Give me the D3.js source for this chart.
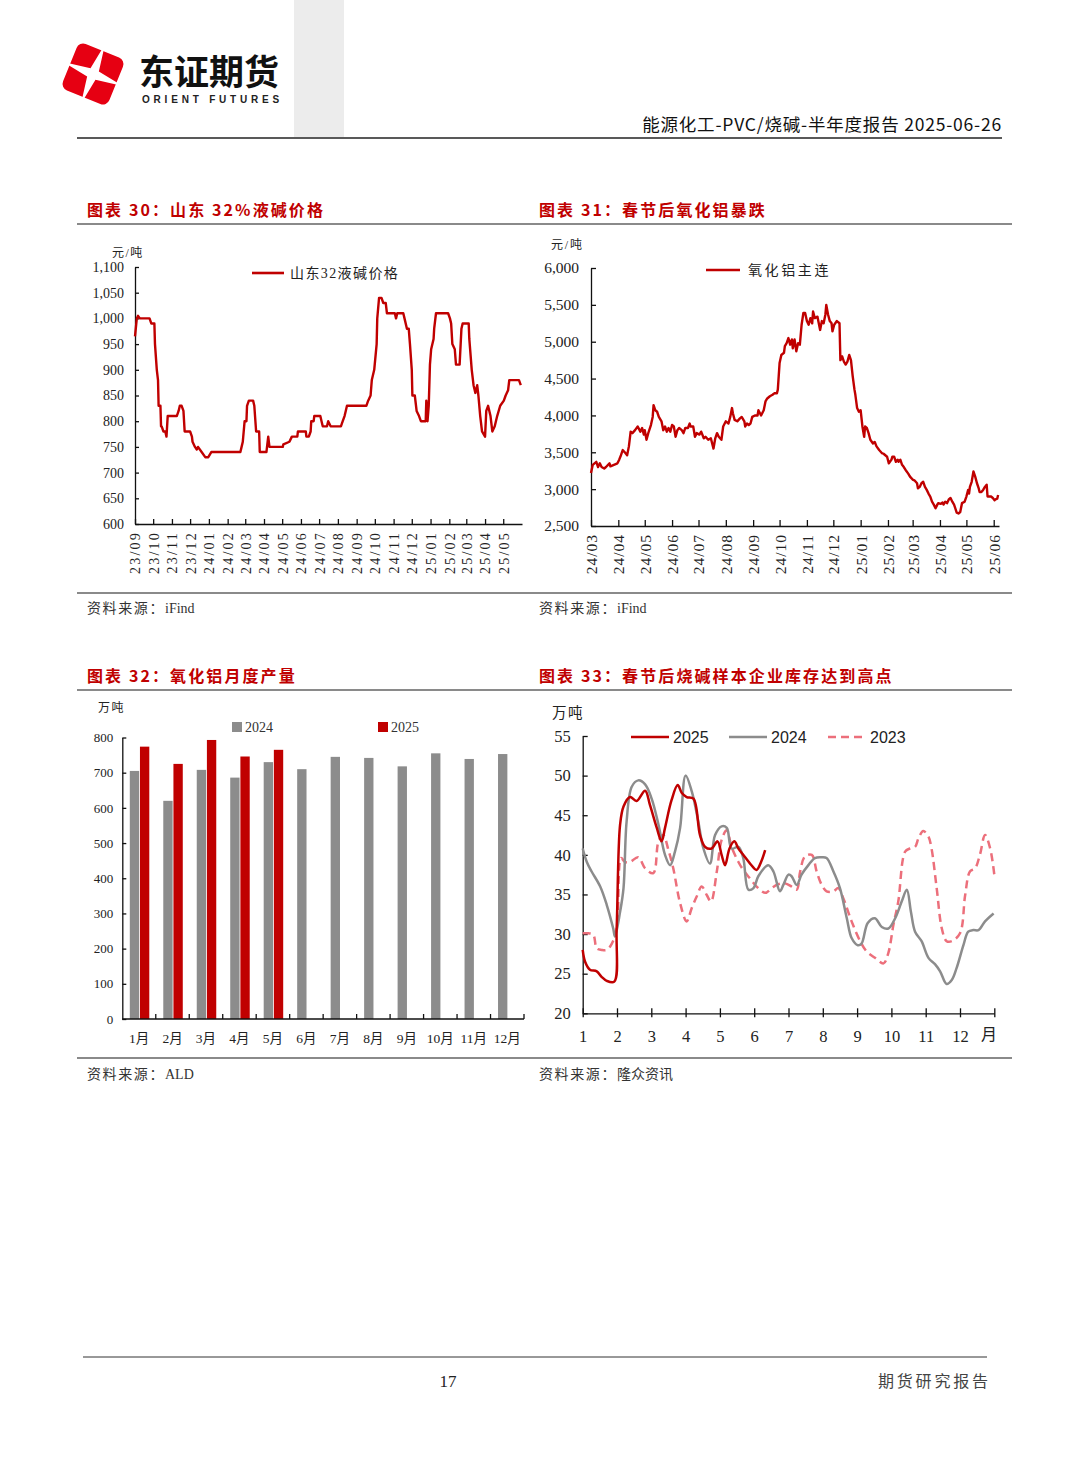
<!DOCTYPE html>
<html>
<head>
<meta charset="utf-8">
<script src="https://cdn.jsdelivr.net/npm/d3@7"></script>
<style>body{margin:0;background:#fff}</style>
</head>
<body>
<script>
// ---- 图表30 山东32%液碱价格 (元/吨) ----
const causticTicks = ["23/09","23/10","23/11","23/12","24/01","24/02","24/03","24/04","24/05","24/06","24/07",
  "24/08","24/09","24/10","24/11","24/12","25/01","25/02","25/03","25/04","25/05"];
const causticPrice = [
  ["2023-09-01",965],["2023-09-04",1000],["2023-09-06",1005],["2023-09-09",1000],["2023-09-25",1000],["2023-09-28",990],
  ["2023-10-03",990],["2023-10-04",950],["2023-10-07",900],["2023-10-09",880],["2023-10-10",830],["2023-10-13",830],
  ["2023-10-14",790],["2023-10-15",790],["2023-10-18",780],["2023-10-21",780],["2023-10-23",770],["2023-10-25",810],
  ["2023-11-09",810],["2023-11-12",820],["2023-11-14",830],["2023-11-17",830],["2023-11-20",820],["2023-11-22",780],
  ["2023-12-01",780],["2023-12-04",770],["2023-12-05",760],["2023-12-09",750],["2023-12-12",745],["2023-12-14",750],
  ["2023-12-20",740],["2023-12-26",730],["2023-12-31",730],["2024-01-05",740],
  ["2024-02-22",740],["2024-02-24",750],["2024-02-26",760],["2024-02-29",800],
  ["2024-03-03",800],["2024-03-04",830],["2024-03-07",840],["2024-03-14",840],["2024-03-16",830],["2024-03-19",780],
  ["2024-03-24",780],["2024-03-25",740],
  ["2024-04-05",740],["2024-04-06",750],["2024-04-08",770],["2024-04-10",750],
  ["2024-05-02",750],["2024-05-03",755],["2024-05-13",760],["2024-05-17",770],["2024-05-26",770],["2024-05-27",780],
  ["2024-06-09",780],["2024-06-10",770],["2024-06-14",770],["2024-06-17",780],["2024-06-18",800],["2024-06-22",800],["2024-06-23",810],
  ["2024-07-03",810],["2024-07-05",800],["2024-07-07",790],["2024-07-14",790],["2024-07-16",800],["2024-07-20",790],
  ["2024-08-06",790],["2024-08-09",800],["2024-08-12",810],["2024-08-14",820],["2024-08-16",830],
  ["2024-09-17",830],["2024-09-20",840],["2024-09-24",850],["2024-09-26",880],["2024-09-30",900],
  ["2024-10-04",950],["2024-10-05",1000],["2024-10-08",1040],["2024-10-12",1040],["2024-10-15",1030],["2024-10-19",1030],["2024-10-21",1010],
  ["2024-11-03",1010],["2024-11-05",1000],["2024-11-07",1010],["2024-11-17",1010],["2024-11-19",1000],["2024-11-23",980],
  ["2024-11-26",980],["2024-11-28",950],
  ["2024-12-01",900],["2024-12-02",850],["2024-12-06",850],["2024-12-09",820],["2024-12-13",810],["2024-12-16",800],
  ["2024-12-24",800],["2024-12-25",840],["2024-12-27",800],["2024-12-29",830],["2024-12-31",910],
  ["2025-01-02",940],["2025-01-06",960],["2025-01-07",980],["2025-01-10",1010],["2025-01-30",1010],
  ["2025-02-02",1000],["2025-02-04",990],["2025-02-06",950],["2025-02-10",940],["2025-02-12",910],["2025-02-18",910],
  ["2025-02-21",980],["2025-02-23",990],
  ["2025-03-05",990],["2025-03-06",960],["2025-03-10",900],["2025-03-13",870],["2025-03-16",855],["2025-03-19",870],
  ["2025-03-21",850],["2025-03-24",810],["2025-03-27",780],
  ["2025-04-01",770],["2025-04-03",820],["2025-04-06",830],["2025-04-10",810],["2025-04-13",780],["2025-04-17",790],
  ["2025-04-21",810],["2025-04-26",830],
  ["2025-05-02",840],["2025-05-05",850],["2025-05-09",860],["2025-05-11",880],["2025-05-27",880],["2025-05-30",870]
];

// ---- 图表31 氧化铝主连 (元/吨) ----
const aluminaTicks = ["24/03","24/04","24/05","24/06","24/07","24/08","24/09","24/10","24/11","24/12",
  "25/01","25/02","25/03","25/04","25/05","25/06"];
const aluminaPrice = [
  ["2024-03-01",3220],["2024-03-03",3330],["2024-03-05",3350],["2024-03-07",3370],["2024-03-09",3300],["2024-03-11",3350],
  ["2024-03-13",3300],["2024-03-16",3280],["2024-03-18",3300],["2024-03-22",3350],["2024-03-23",3310],["2024-03-27",3330],["2024-03-31",3350],
  ["2024-04-02",3400],["2024-04-04",3460],["2024-04-06",3530],["2024-04-09",3490],["2024-04-11",3460],["2024-04-13",3580],
  ["2024-04-15",3780],["2024-04-17",3760],["2024-04-20",3800],["2024-04-23",3850],["2024-04-26",3780],["2024-04-28",3830],["2024-04-30",3740],
  ["2024-05-01",3800],["2024-05-03",3670],["2024-05-05",3760],["2024-05-08",3870],["2024-05-10",3980],["2024-05-11",4140],
  ["2024-05-13",4070],["2024-05-15",4050],["2024-05-17",3980],["2024-05-20",3920],["2024-05-22",3800],["2024-05-24",3850],
  ["2024-05-26",3780],["2024-05-28",3830],["2024-05-30",3780],
  ["2024-06-01",3870],["2024-06-03",3850],["2024-06-05",3710],["2024-06-07",3800],["2024-06-09",3830],["2024-06-12",3800],
  ["2024-06-14",3760],["2024-06-16",3830],["2024-06-19",3830],["2024-06-21",3890],["2024-06-22",3850],["2024-06-25",3850],
  ["2024-06-27",3710],["2024-06-29",3760],
  ["2024-07-02",3740],["2024-07-04",3780],["2024-07-07",3690],["2024-07-09",3710],["2024-07-12",3670],["2024-07-15",3690],
  ["2024-07-18",3550],["2024-07-20",3690],["2024-07-22",3760],["2024-07-24",3710],["2024-07-27",3670],["2024-07-29",3850],
  ["2024-08-01",3920],["2024-08-04",3890],["2024-08-06",3980],["2024-08-08",4100],["2024-08-09",4030],["2024-08-11",3940],
  ["2024-08-14",3920],["2024-08-17",3960],["2024-08-19",3980],["2024-08-22",3920],["2024-08-23",3850],["2024-08-25",3890],
  ["2024-08-27",3870],["2024-08-29",3890],["2024-08-31",3980],
  ["2024-09-03",4000],["2024-09-06",4000],["2024-09-07",4070],["2024-09-10",4000],["2024-09-13",4070],["2024-09-15",4190],
  ["2024-09-17",4230],["2024-09-20",4260],["2024-09-23",4280],["2024-09-25",4300],["2024-09-28",4300],["2024-09-29",4350],
  ["2024-10-01",4710],["2024-10-03",4820],["2024-10-06",4850],["2024-10-07",4940],["2024-10-09",4980],["2024-10-11",5050],
  ["2024-10-13",4960],["2024-10-15",5030],["2024-10-16",4910],["2024-10-18",5030],["2024-10-20",4870],["2024-10-22",4980],
  ["2024-10-24",4960],["2024-10-26",5230],["2024-10-28",5390],["2024-10-30",5390],
  ["2024-11-01",5280],["2024-11-03",5230],["2024-11-05",5320],["2024-11-07",5250],["2024-11-08",5410],["2024-11-10",5320],
  ["2024-11-13",5340],["2024-11-16",5160],["2024-11-18",5280],["2024-11-20",5250],["2024-11-22",5370],["2024-11-23",5500],
  ["2024-11-25",5370],["2024-11-27",5280],["2024-11-29",5250],["2024-11-30",5140],
  ["2024-12-02",5230],["2024-12-05",5280],["2024-12-08",5250],["2024-12-09",4750],["2024-12-11",4800],["2024-12-13",4730],
  ["2024-12-15",4690],["2024-12-17",4730],["2024-12-19",4820],["2024-12-21",4750],["2024-12-23",4530],["2024-12-25",4350],
  ["2024-12-26",4280],["2024-12-28",4100],["2024-12-30",4050],
  ["2025-01-01",4070],["2025-01-03",3850],["2025-01-05",3710],["2025-01-06",3850],["2025-01-08",3830],["2025-01-10",3760],
  ["2025-01-12",3670],["2025-01-15",3620],["2025-01-17",3640],["2025-01-19",3580],["2025-01-22",3530],["2025-01-25",3490],
  ["2025-01-27",3480],["2025-01-29",3460],["2025-01-31",3440],
  ["2025-02-02",3350],["2025-02-05",3400],["2025-02-06",3440],["2025-02-08",3440],["2025-02-10",3370],["2025-02-12",3400],
  ["2025-02-13",3370],["2025-02-15",3400],["2025-02-17",3330],["2025-02-19",3300],["2025-02-21",3260],["2025-02-24",3210],["2025-02-26",3170],
  ["2025-03-01",3130],["2025-03-03",3120],["2025-03-06",3080],["2025-03-07",3010],["2025-03-09",3030],["2025-03-11",3080],
  ["2025-03-13",3100],["2025-03-15",3030],["2025-03-17",2990],["2025-03-19",2940],["2025-03-21",2900],["2025-03-23",2830],
  ["2025-03-25",2790],["2025-03-27",2740],["2025-03-29",2790],["2025-03-30",2810],
  ["2025-04-02",2800],["2025-04-04",2820],["2025-04-05",2790],["2025-04-07",2830],["2025-04-09",2810],["2025-04-11",2860],
  ["2025-04-13",2880],["2025-04-15",2830],["2025-04-17",2790],["2025-04-19",2720],["2025-04-20",2680],["2025-04-22",2670],
  ["2025-04-24",2690],["2025-04-26",2810],["2025-04-29",2830],
  ["2025-05-01",2900],["2025-05-03",2990],["2025-05-04",2940],["2025-05-05",3030],["2025-05-07",3100],["2025-05-09",3240],
  ["2025-05-11",3170],["2025-05-13",3080],["2025-05-15",3010],["2025-05-16",2960],["2025-05-18",2960],["2025-05-20",2990],
  ["2025-05-22",3030],["2025-05-24",3060],["2025-05-25",2900],["2025-05-27",2900],["2025-05-29",2900],["2025-05-31",2880],
  ["2025-06-02",2850],["2025-06-03",2860],["2025-06-05",2870],["2025-06-06",2920]
];

// ---- 图表32 氧化铝月度产量 (万吨) ----
const months = ["1月","2月","3月","4月","5月","6月","7月","8月","9月","10月","11月","12月"];
const output2024 = [705,620,708,686,730,710,745,742,718,755,739,753];
const output2025 = [774,725,793,746,765];

// ---- 图表33 烧碱样本企业库存 (万吨), x = 月 ----
const stock2025 = [
  [1.00,28.0],[1.07,26.5],[1.21,25.5],[1.41,25.3],[1.55,24.6],[1.70,24.1],[1.92,24.0],[1.99,30.7],[2.09,43.8],[2.19,46.1],
  [2.38,47.3],[2.57,46.8],[2.82,48.1],[2.96,46.3],[3.16,43.4],[3.30,41.7],[3.40,43.4],[3.59,46.9],[3.77,48.8],[3.89,47.8],
  [4.03,47.3],[4.23,47.1],[4.42,42.5],[4.57,41.0],[4.76,40.8],[4.93,41.7],[5.05,40.0],[5.15,38.7],[5.28,40.8],[5.42,41.7],
  [5.54,40.8],[5.68,40.0],[5.88,38.9],[6.07,38.1],[6.20,39.1],[6.32,40.6]
];
const stock2024 = [
  [1.00,40.8],[1.12,39.1],[1.26,37.9],[1.51,36.0],[1.70,33.7],[1.89,30.7],[1.94,29.7],[2.09,32.8],[2.19,35.8],[2.28,44.2],
  [2.43,48.6],[2.62,49.4],[2.82,48.9],[3.01,47.1],[3.21,43.8],[3.40,40.0],[3.55,38.7],[3.69,40.4],[3.84,43.4],[4.00,50.0],
  [4.18,48.0],[4.37,44.2],[4.52,40.8],[4.71,38.9],[4.86,42.5],[5.05,43.6],[5.20,43.4],[5.34,40.8],[5.54,41.0],[5.68,39.6],
  [5.83,35.6],[5.98,35.8],[6.12,37.3],[6.41,38.7],[6.56,37.9],[6.75,35.4],[6.85,36.2],[7.00,37.5],[7.09,37.3],[7.24,36.2],
  [7.38,37.5],[7.58,38.7],[7.77,39.6],[7.97,39.7],[8.11,39.6],[8.31,37.9],[8.50,35.8],[8.70,32.0],[8.84,29.5],[9.02,28.6],
  [9.13,28.8],[9.31,31.4],[9.52,32.0],[9.72,30.9],[9.91,30.7],[10.11,32.0],[10.30,34.1],[10.45,35.6],[10.57,32.8],[10.69,30.3],
  [10.88,29.1],[11.08,27.0],[11.27,26.2],[11.42,25.3],[11.61,23.7],[11.76,24.2],[11.90,25.7],[12.10,28.6],[12.24,30.3],
  [12.39,30.5],[12.54,30.5],[12.73,31.6],[12.98,32.6]
];
const stock2023 = [
  [1.00,30.1],[1.17,30.1],[1.31,29.9],[1.41,28.2],[1.55,28.0],[1.70,28.0],[1.85,28.8],[1.99,30.7],[2.12,39.6],[2.23,39.1],
  [2.38,39.1],[2.62,39.7],[2.82,38.3],[3.06,37.7],[3.21,41.7],[3.35,42.5],[3.50,40.6],[3.64,38.3],[3.84,33.9],[4.03,31.6],
  [4.18,33.3],[4.32,34.7],[4.47,36.0],[4.62,34.9],[4.74,34.1],[4.91,37.9],[5.05,41.9],[5.20,43.1],[5.34,41.0],[5.54,39.1],
  [5.68,38.1],[5.88,37.0],[6.07,36.0],[6.32,35.2],[6.51,35.8],[6.70,36.3],[6.90,36.4],[7.09,36.0],[7.24,35.6],[7.34,37.9],
  [7.48,39.8],[7.68,40.0],[7.82,37.9],[7.97,36.2],[8.11,35.4],[8.31,35.4],[8.45,35.8],[8.60,34.5],[8.84,31.6],[9.09,29.1],
  [9.28,27.8],[9.52,27.0],[9.77,26.3],[9.91,27.6],[10.06,31.2],[10.20,34.1],[10.40,40.4],[10.54,40.8],[10.69,41.0],
  [10.79,42.1],[10.93,43.0],[11.08,42.3],[11.17,40.8],[11.32,35.8],[11.47,30.7],[11.61,29.1],[11.76,29.1],[12.00,30.1],
  [12.15,34.9],[12.29,37.9],[12.44,38.3],[12.58,40.0],[12.73,42.5],[12.88,40.8],[13.00,37.5]
];
const stockMonthTicks = [1,2,3,4,5,6,7,8,9,10,11,12,13];

// 样式
const RED = "#c00000", GREY = "#8c8c8c", PINK = "#ec6f7b";
const SERIF = "'Liberation Serif','Noto Sans CJK SC',serif";
const CJK = "'Noto Sans CJK SC',sans-serif";

const svg = d3.select("body").append("svg")
    .attr("width", 1080)
    .attr("height", 1466)
    .style("display", "block");

// ---------- 页眉 ----------
svg.append("rect").attr("x", 294).attr("y", 0).attr("width", 50).attr("height", 137).attr("fill", "#ececec");

const logo = svg.append("g").attr("transform", "translate(93,74) rotate(22)");
logo.append("rect").attr("x", -25).attr("y", -25).attr("width", 50).attr("height", 50)
    .attr("rx", 7).attr("fill", "#e60012");
logo.append("path").attr("d", "M0,-32 L4.5,-4.5 L32,0 L4.5,4.5 L0,32 L-4.5,4.5 L-32,0 L-4.5,-4.5 Z").attr("fill", "#fff");

svg.append("text").attr("x", 139).attr("y", 85).text("东证期货")
    .attr("font-family", CJK).attr("font-weight", "bold").attr("font-size", 35).attr("fill", "#111");
svg.append("text").attr("x", 142).attr("y", 103).text("ORIENT FUTURES")
    .attr("font-family", "'Liberation Sans',Arial,sans-serif").attr("font-weight", "bold")
    .attr("font-size", 10).attr("letter-spacing", 3.8).attr("fill", "#222");

svg.append("text").attr("x", 1002).attr("y", 131).attr("text-anchor", "end")
    .text("能源化工-PVC/烧碱-半年度报告 2025-06-26")
    .attr("font-family", CJK).attr("font-size", 17.5).attr("letter-spacing", 0.8).attr("fill", "#111");
svg.append("line").attr("x1", 77).attr("x2", 1002).attr("y1", 138).attr("y2", 138)
    .attr("stroke", "#222").attr("stroke-width", 1.5);

// ---------- 标题、分隔线、来源 ----------
function frame(titleY, ruleTop, ruleBottom, sourceY, titles, sources) {
    [87, 539].forEach((x, i) => {
        svg.append("text").attr("x", x).attr("y", titleY).text(titles[i])
            .attr("font-family", CJK).attr("font-weight", "bold").attr("font-size", 16)
            .attr("letter-spacing", 2.1).attr("fill", RED);
        const src = svg.append("text").attr("x", x).attr("y", sourceY)
            .attr("font-family", SERIF).attr("font-size", 14).attr("fill", "#333");
        src.append("tspan").attr("letter-spacing", 1.6).text("资料来源：");
        src.append("tspan").text(sources[i]);
    });
    [ruleTop, ruleBottom].forEach(y => {
        svg.append("line").attr("x1", 77).attr("x2", 1012).attr("y1", y).attr("y2", y)
            .attr("stroke", "#8a8a8a").attr("stroke-width", 1.8);
    });
}
frame(216, 224, 593, 613, ["图表 30：山东 32%液碱价格", "图表 31：春节后氧化铝暴跌"], ["iFind", "iFind"]);
frame(682, 690, 1058, 1079, ["图表 32：氧化铝月度产量", "图表 33：春节后烧碱样本企业库存达到高点"], ["ALD", "隆众资讯"]);

// ---------- 通用 ----------
function styleAxis(g, size) {
    g.attr("font-family", SERIF).attr("font-size", size);
    g.selectAll("path, line").attr("stroke", "#111").attr("stroke-width", 1.3);
    g.selectAll("text").attr("fill", "#222");
}
const parseTick = s => new Date(Date.UTC(2000 + +s.slice(0, 2), +s.slice(3) - 1, 1));
const parseDay = d3.utcParse("%Y-%m-%d");

// ---------- 图表30 ----------
{
    const x = d3.scaleUtc().domain([parseTick("23/09"), parseTick("25/06")]).range([135, 522]);
    const y = d3.scaleLinear().domain([600, 1100]).range([524, 267]);

    const gy = svg.append("g").attr("transform", "translate(135,0)")
        .call(d3.axisLeft(y).tickValues(d3.range(600, 1101, 50)).tickFormat(d3.format(","))
            .tickSize(-4).tickSizeOuter(0).tickPadding(11));
    styleAxis(gy, 14);

    const gx = svg.append("g").attr("transform", "translate(0,524)")
        .call(d3.axisBottom(x).tickValues(causticTicks.map(parseTick)).tickFormat((d, i) => causticTicks[i])
            .tickSize(-5).tickSizeOuter(0));
    styleAxis(gx, 14);
    gx.selectAll("text").attr("transform", "rotate(-90)").attr("text-anchor", "end")
        .attr("x", -7).attr("y", 0).attr("dy", "0.35em").attr("letter-spacing", 2.2);

    svg.append("path").datum(causticPrice)
        .attr("fill", "none").attr("stroke", RED).attr("stroke-width", 2.4).attr("stroke-linejoin", "round")
        .attr("d", d3.line().x(d => x(parseDay(d[0]))).y(d => y(d[1])));

    svg.append("text").attr("x", 112).attr("y", 257).text("元/吨")
        .attr("font-family", SERIF).attr("font-size", 12).attr("letter-spacing", 1.5).attr("fill", "#222");
    svg.append("line").attr("x1", 252).attr("x2", 284).attr("y1", 273).attr("y2", 273)
        .attr("stroke", RED).attr("stroke-width", 2.6);
    svg.append("text").attr("x", 290).attr("y", 278).text("山东32液碱价格")
        .attr("font-family", SERIF).attr("font-size", 14).attr("letter-spacing", 1.4).attr("fill", "#222");
}

// ---------- 图表31 ----------
{
    const x = d3.scaleUtc().domain([parseTick("24/03"), parseDay("2025-06-07")]).range([591, 999]);
    const y = d3.scaleLinear().domain([2500, 6000]).range([526, 268]);

    const gy = svg.append("g").attr("transform", "translate(591,0)")
        .call(d3.axisLeft(y).tickValues(d3.range(2500, 6001, 500)).tickFormat(d3.format(","))
            .tickSize(-5).tickSizeOuter(0).tickPadding(12));
    styleAxis(gy, 15.5);

    const gx = svg.append("g").attr("transform", "translate(0,526)")
        .call(d3.axisBottom(x).tickValues(aluminaTicks.map(parseTick)).tickFormat((d, i) => aluminaTicks[i])
            .tickSize(-6).tickSizeOuter(0));
    styleAxis(gx, 15.5);
    gx.selectAll("text").attr("transform", "rotate(-90)").attr("text-anchor", "end")
        .attr("x", -8).attr("y", 0).attr("dy", "0.35em").attr("letter-spacing", 1);

    svg.append("path").datum(aluminaPrice)
        .attr("fill", "none").attr("stroke", RED).attr("stroke-width", 2.4).attr("stroke-linejoin", "round")
        .attr("d", d3.line().x(d => x(parseDay(d[0]))).y(d => y(d[1])));

    svg.append("text").attr("x", 551).attr("y", 249).text("元/吨")
        .attr("font-family", SERIF).attr("font-size", 12).attr("letter-spacing", 1.8).attr("fill", "#222");
    svg.append("line").attr("x1", 706).attr("x2", 740).attr("y1", 270).attr("y2", 270)
        .attr("stroke", RED).attr("stroke-width", 2.6);
    svg.append("text").attr("x", 748).attr("y", 275).text("氧化铝主连")
        .attr("font-family", SERIF).attr("font-size", 14).attr("letter-spacing", 2.6).attr("fill", "#222");
}

// ---------- 图表32 ----------
{
    const x = d3.scaleBand().domain(months).range([122.3, 524]);
    const sub = d3.scaleBand().domain(["2024", "2025"]).range([7.5, 27]).paddingInner(0.08);
    const y = d3.scaleLinear().domain([0, 800]).range([1019, 737.5]);

    const gy = svg.append("g").attr("transform", "translate(122.3,0)")
        .call(d3.axisLeft(y).tickValues(d3.range(0, 801, 100)).tickSize(-4).tickSizeOuter(0).tickPadding(9));
    styleAxis(gy, 13);

    const series = [["2024", output2024, GREY], ["2025", output2025, RED]];
    series.forEach(([name, vals, color]) => {
        svg.append("g").selectAll("rect").data(vals).enter().append("rect")
            .attr("x", (d, i) => x(months[i]) + sub(name))
            .attr("width", sub.bandwidth())
            .attr("y", d => y(d))
            .attr("height", d => y(0) - y(d))
            .attr("fill", color);
    });

    // 横轴：类目之间的刻度
    const gx = svg.append("g").attr("transform", "translate(0,1019)");
    gx.append("line").attr("x1", 122.3).attr("x2", 524).attr("stroke", "#111").attr("stroke-width", 1.3);
    gx.selectAll(".tk").data(months.map(m => x(m) + x.bandwidth())).enter().append("line")
        .attr("x1", d => d).attr("x2", d => d).attr("y1", 0).attr("y2", -5)
        .attr("stroke", "#111").attr("stroke-width", 1.3);
    gx.selectAll("text").data(months).enter().append("text")
        .attr("x", d => x(d) + x.bandwidth() / 2).attr("y", 24).attr("text-anchor", "middle")
        .attr("font-family", SERIF).attr("font-size", 13.5).attr("fill", "#222").text(d => d);

    svg.append("text").attr("x", 98).attr("y", 712).text("万吨")
        .attr("font-family", SERIF).attr("font-size", 12).attr("letter-spacing", 1.5).attr("fill", "#222");
    series.forEach(([name, , color], i) => {
        const lx = [232, 378][i];
        svg.append("rect").attr("x", lx).attr("y", 722).attr("width", 10).attr("height", 10).attr("fill", color);
        svg.append("text").attr("x", lx + 13).attr("y", 732).text(name)
            .attr("font-family", SERIF).attr("font-size", 14).attr("fill", "#333");
    });
}

// ---------- 图表33 ----------
{
    const x = d3.scaleLinear().domain([1, 13]).range([582.7, 994.3]);
    const y = d3.scaleLinear().domain([20, 55]).range([1013.3, 736]);

    const gy = svg.append("g").attr("transform", "translate(582.7,0)")
        .call(d3.axisLeft(y).tickValues(d3.range(20, 56, 5)).tickSize(-5).tickSizeOuter(0).tickPadding(12));
    styleAxis(gy, 16.5);

    const gx = svg.append("g").attr("transform", "translate(0,1013.3)")
        .call(d3.axisBottom(x).tickValues(stockMonthTicks).tickFormat(d => d < 13 ? d : "")
            .tickSize(-5).tickSizeOuter(0).tickPadding(17));
    styleAxis(gx, 16.5);
    gx.selectAll(".tick line").attr("y1", 4).attr("y2", -5);

    const line = d3.line().x(d => x(d[0])).y(d => y(d[1])).curve(d3.curveCatmullRom.alpha(0.5));
    [[stock2023, PINK, "8,5"], [stock2024, GREY, null], [stock2025, RED, null]].forEach(([data, color, dash]) => {
        svg.append("path").datum(data)
            .attr("fill", "none").attr("stroke", color).attr("stroke-width", 2.5)
            .attr("stroke-dasharray", dash).attr("d", line);
    });

    svg.append("text").attr("x", 552).attr("y", 718).text("万吨")
        .attr("font-family", SERIF).attr("font-size", 14.5).attr("letter-spacing", 1.5).attr("fill", "#222");
    svg.append("text").attr("x", 981).attr("y", 1040).text("月")
        .attr("font-family", CJK).attr("font-size", 16).attr("fill", "#222");

    const legend = [["2025", RED, null, 631], ["2024", GREY, null, 729], ["2023", PINK, "8,5", 828]];
    legend.forEach(([name, color, dash, lx]) => {
        svg.append("line").attr("x1", lx).attr("x2", lx + 38).attr("y1", 737).attr("y2", 737)
            .attr("stroke", color).attr("stroke-width", 2.5).attr("stroke-dasharray", dash);
        svg.append("text").attr("x", lx + 42).attr("y", 743).text(name)
            .attr("font-family", "'Liberation Sans',Arial,sans-serif").attr("font-size", 16).attr("fill", "#222");
    });
}

// ---------- 页脚 ----------
svg.append("line").attr("x1", 83).attr("x2", 987).attr("y1", 1357).attr("y2", 1357)
    .attr("stroke", "#333").attr("stroke-width", 1);
svg.append("text").attr("x", 448).attr("y", 1387).attr("text-anchor", "middle").text("17")
    .attr("font-family", SERIF).attr("font-size", 17).attr("fill", "#222");
svg.append("text").attr("x", 878).attr("y", 1387).text("期货研究报告")
    .attr("font-family", SERIF).attr("font-size", 16).attr("letter-spacing", 2.8).attr("fill", "#444");
</script>
</body>
</html>
